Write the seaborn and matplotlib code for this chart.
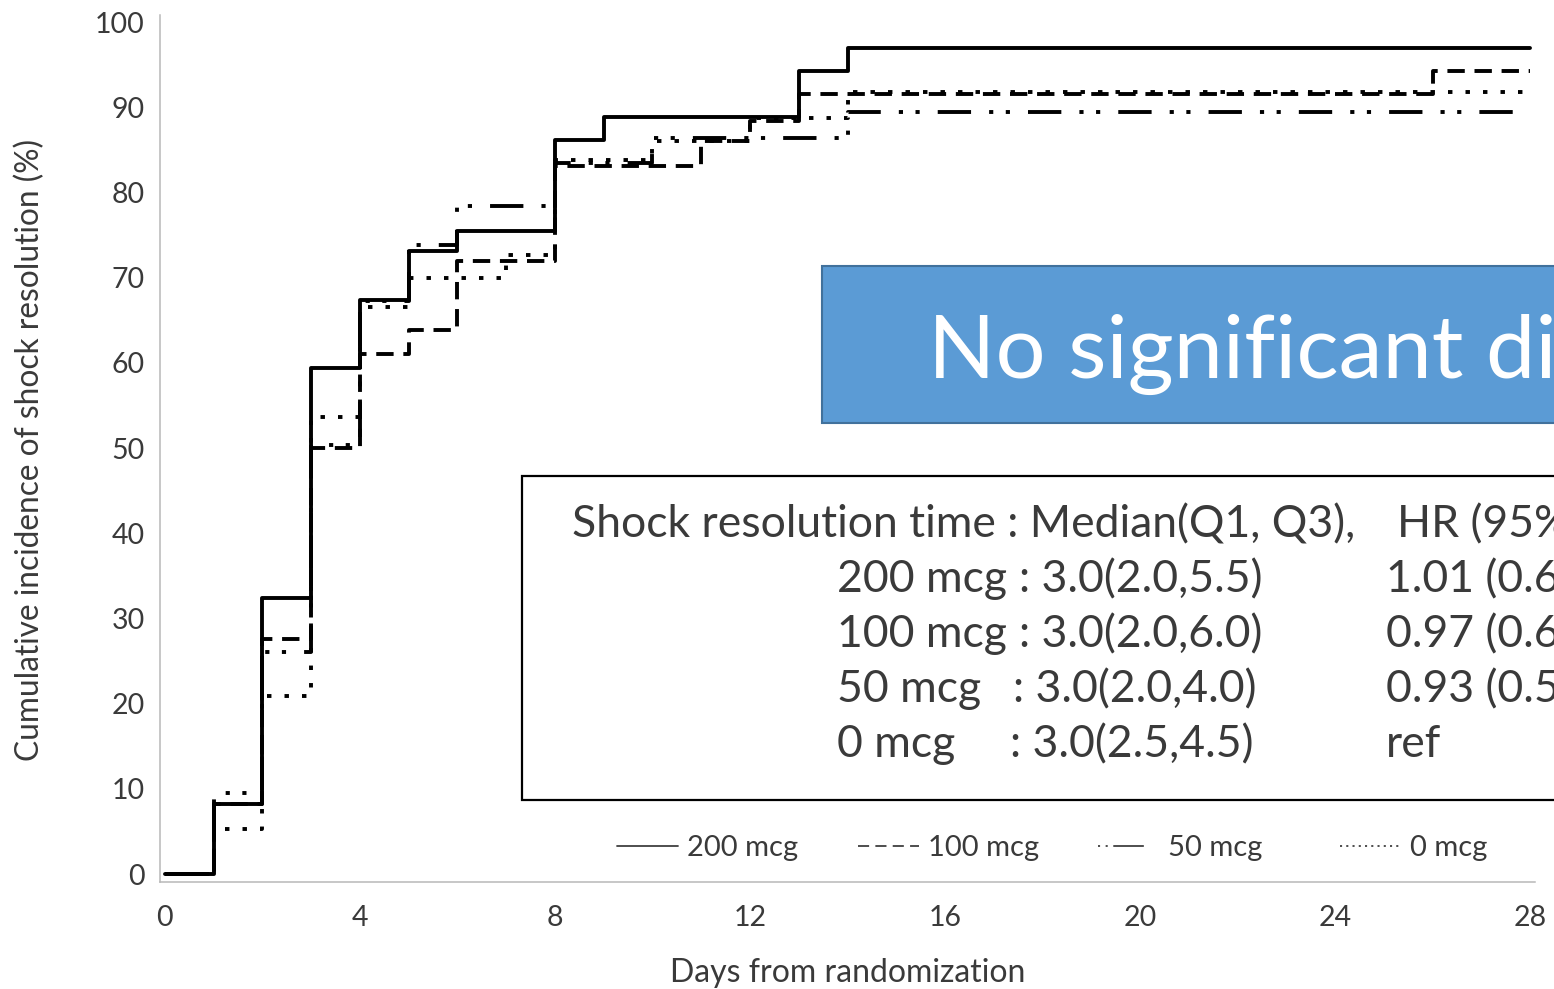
import numpy as np
import pandas as pd
import matplotlib
matplotlib.use("Agg")
import matplotlib.pyplot as plt
import seaborn as sns
from matplotlib.lines import Line2D
from matplotlib.patches import Rectangle

# ---- data ----
groups = ["200 mcg", "100 mcg", "50 mcg", "0 mcg"]
days_200 = [0, 1, 2, 3, 4, 5, 6, 8, 9, 13, 14, 28]
pct_200 = [0, 8.2, 32.4, 59.4, 67.4, 73.1, 75.5, 86.2, 88.8, 94.2, 96.9, 96.9]
days_100 = [0, 1, 2, 3, 4, 5, 6, 8, 11, 12, 13, 26, 28]
pct_100 = [0, 8.2, 27.6, 50.0, 61.0, 63.8, 72.0, 83.1, 86.0, 88.4, 91.6, 94.3, 94.3]
days_50 = [0, 1, 2, 3, 4, 5, 6, 8, 10, 14, 28]
pct_50 = [0, 9.5, 26.1, 50.3, 67.2, 73.8, 78.4, 83.5, 86.4, 89.4, 89.4]
days_0 = [0, 1, 2, 3, 4, 5, 7, 8, 10, 12, 14, 28]
pct_0 = [0, 5.3, 20.9, 53.6, 66.6, 70.0, 72.6, 83.8, 86.0, 88.7, 91.8, 91.8]

x_ticks = [0, 4, 8, 12, 16, 20, 24, 28]
y_ticks = [0, 10, 20, 30, 40, 50, 60, 70, 80, 90, 100]

table_header = "Shock resolution time : Median(Q1, Q3),"
table_hr_header = "HR (95%"
table_names = ["200 mcg", "100 mcg", "50 mcg", "0 mcg"]
table_medians = [": 3.0(2.0,5.5)", ": 3.0(2.0,6.0)", ": 3.0(2.0,4.0)", ": 3.0(2.5,4.5)"]
table_hr = ["1.01 (0.6", "0.97 (0.6", "0.93 (0.5", "ref"]
banner_text = "No significant di"

# ---- styling ----
sns.set_style("white")
plt.rcParams["font.family"] = ["Lato", "DejaVu Sans"]
plt.rcParams["lines.scale_dashes"] = False
TXT = "#3a3a3a"
W, H = 1554, 989

df = pd.concat([
    pd.DataFrame({"group": g, "day": d, "pct": p})
    for g, d, p in zip(groups, [days_200, days_100, days_50, days_0],
                       [pct_200, pct_100, pct_50, pct_0])
], ignore_index=True)

dash_map = {
    "200 mcg": "",
    "100 mcg": (12.5, 7),
    "50 mcg": (24, 13, 3, 9, 3, 13),
    "0 mcg": (3.2, 9.4),
}

fig = plt.figure(figsize=(W / 100, H / 100), dpi=100)
ax = fig.add_axes([160 / W, 1 - 881.7 / H, (1535 - 160) / W, (881.7 - 15.2) / H])

# draw 0 mcg first so the solid line sits on top
sns.lineplot(data=df, x="day", y="pct", hue="group", style="group",
             hue_order=groups[::-1], style_order=groups[::-1],
             palette={g: "black" for g in groups}, dashes=dash_map,
             drawstyle="steps-post", estimator=None, sort=False,
             lw=2.8, legend=False, ax=ax)

ax.set_xlim(-0.1, 28.1)
ax.set_ylim(-0.9, 100.8)
ax.set_xticks(x_ticks)
ax.set_yticks(y_ticks)
ax.set_xticks(np.arange(0, 29, 2), minor=True)
ax.set_yticks(np.arange(0, 101, 5), minor=True)
ax.set_xlabel("")
ax.set_ylabel("")
for s in ["top", "right"]:
    ax.spines[s].set_visible(False)
for s in ["left", "bottom"]:
    ax.spines[s].set_color("#b8b8b8")
    ax.spines[s].set_linewidth(1.1)
ax.tick_params(axis="both", which="major", direction="out", length=5, width=1,
               color="#b8b8b8", labelsize=20.5, labelcolor=TXT, pad=6)
ax.tick_params(axis="both", which="minor", direction="out", length=3, width=1,
               color="#c8c8c8")
ax.tick_params(axis="x", which="major", pad=12)

# axis labels
fig.text(30 / W, 1 - 450 / H, "Cumulative incidence of shock resolution (%)",
         rotation=90, ha="center", va="center", fontsize=22.8, color=TXT)
fig.text(848 / W, 1 - 973 / H, "Days from randomization",
         ha="center", va="center", fontsize=23, color=TXT)

# legend: four evenly spaced entries
handles = [
    Line2D([], [], color="#404040", lw=1.3, linestyle="-"),
    Line2D([], [], color="#404040", lw=1.3, linestyle=(0, (8, 4.5))),
    Line2D([], [], color="#404040", lw=1.3, linestyle=(0, (1.5, 4, 1.5, 4, 22, 200))),
    Line2D([], [], color="#404040", lw=1.3, linestyle=(0, (1.5, 3))),
]
for hnd, lab, xpx in zip(handles, groups, [617, 858, 1098, 1340]):
    leg = fig.legend([hnd], [lab], loc="center left",
                     bbox_to_anchor=(xpx / W, 1 - 848 / H), frameon=False,
                     fontsize=21, handlelength=2.1, handletextpad=0.3,
                     borderpad=0, borderaxespad=0)
    for t in leg.get_texts():
        t.set_color(TXT)

# blue banner (clipped by the figure edge, as in the reference)
fig.patches.append(Rectangle((822 / W, 1 - 423 / H), 0.6, 157 / H,
                             transform=fig.transFigure, facecolor="#5B9BD5",
                             edgecolor="#41719C", lw=1.5))
fig.text(928 / W, 1 - 378 / H, banner_text, ha="left", va="baseline",
         fontsize=63.5, color="white")

# result table box
FS = 32
fig.patches.append(Rectangle((522 / W, 1 - 800 / H), 0.8, 324 / H,
                             transform=fig.transFigure, facecolor="white",
                             edgecolor="black", lw=1.6))
fig.text(572 / W, 1 - 537 / H, table_header, ha="left", va="baseline",
         fontsize=FS, color=TXT)
fig.text(1397 / W, 1 - 537 / H, table_hr_header, ha="left", va="baseline",
         fontsize=FS, color=TXT)
colon_x = [1019, 1019, 1013, 1010]
for i, (n, m, h) in enumerate(zip(table_names, table_medians, table_hr)):
    yb = 1 - (592 + 55 * i) / H
    fig.text(837 / W, yb, n, ha="left", va="baseline", fontsize=FS, color=TXT)
    fig.text(colon_x[i] / W, yb, m, ha="left", va="baseline", fontsize=FS, color=TXT)
    fig.text(1386 / W, yb, h, ha="left", va="baseline", fontsize=FS, color=TXT)

fig.savefig("out.png", dpi=100)
